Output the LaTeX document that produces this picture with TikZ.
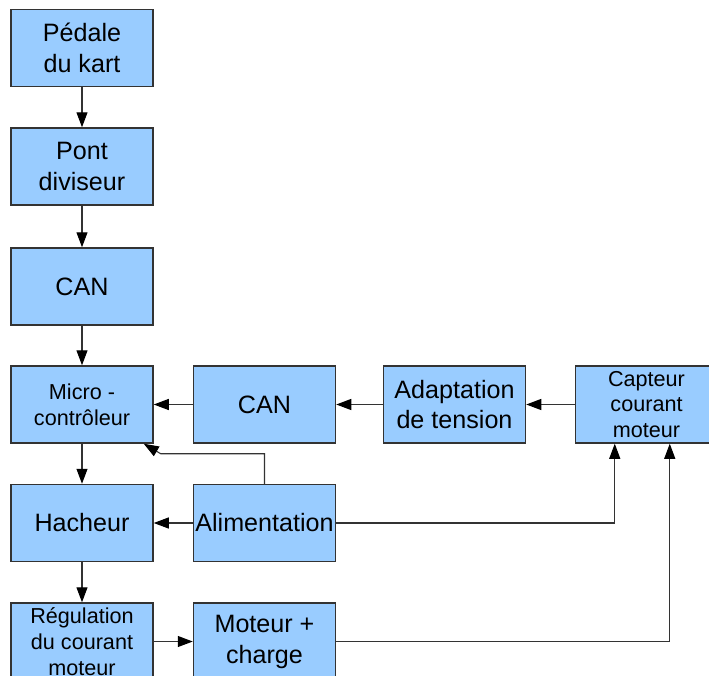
\documentclass[tikz,border=0pt]{standalone}
\usepackage{fontspec}
\setmainfont{Liberation Sans}
\usepackage{tikz}
\usetikzlibrary{arrows.meta}

\definecolor{bleubloc}{HTML}{99CCFF}
\definecolor{gristrait}{HTML}{333333}

\begin{document}
\begin{tikzpicture}[
        bloc/.style={draw=gristrait, line width=0.85pt, fill=bleubloc, minimum width=2.84cm, minimum height=1.54cm, inner sep=0pt, align=center, font=\fontsize{14.3}{17.6}\selectfont},
        petit/.style={font=\fontsize{12.3}{14.6}\selectfont},
        fleche/.style={draw=gristrait, line width=0.6pt, -{Triangle[length=0.3cm, width=0.22cm, color=black]}}
    ]
        \useasboundingbox (0, 0) rectangle (14.18, 13.5);

        \node[bloc] (pedale) at (1.64, 12.54) {P\'edale\\du kart};
        \node[bloc] (pont) at (1.64, 10.17) {Pont\\diviseur};
        \node[bloc] (can1) at (1.64, 7.77) {CAN};
        \node[bloc, petit] (micro) at (1.64, 5.41) {Micro -\\contr\^oleur};
        \node[bloc] (hach) at (1.64, 3.04) {Hacheur};
        \node[bloc, petit] (regul) at (1.64, 0.67) {R\'egulation\\du courant\\moteur};

        \node[bloc] (can2) at (5.29, 5.41) {CAN};
        \node[bloc] (alim) at (5.29, 3.04) {Alimentation};
        \node[bloc] (moteur) at (5.29, 0.67) {Moteur +\\charge};

        \node[bloc] (adapt) at (9.09, 5.41) {Adaptation\\de tension};
        \node[bloc, petit] (capt) at (12.93, 5.41) {Capteur\\courant\\moteur};

        \draw[fleche] (pedale) to (pont);
        \draw[fleche] (pont) to (can1);
        \draw[fleche] (can1) to (micro);
        \draw[fleche] (micro) to (hach);
        \draw[fleche] (hach) to (regul);
        \draw[fleche] (regul) to (moteur);

        \draw[fleche] (can2) to (micro);
        \draw[fleche] (adapt) to (can2);
        \draw[fleche] (capt) to (adapt);
        \draw[fleche] (alim) to (hach);

        % retours vers le capteur
        \draw[fleche] (alim.east) -| ([xshift=0.8cm]capt.south west);
        \draw[fleche] (moteur.east) -| ([xshift=1.9cm]capt.south west);

        % alimentation du microcontroleur
        \coordinate (coude) at ([xshift=0.14cm, yshift=-0.2cm]micro.south east);
        \draw[fleche] (alim.north) |- (coude) -- ([xshift=-0.2cm]micro.south east);
    \end{tikzpicture}
\end{document}
